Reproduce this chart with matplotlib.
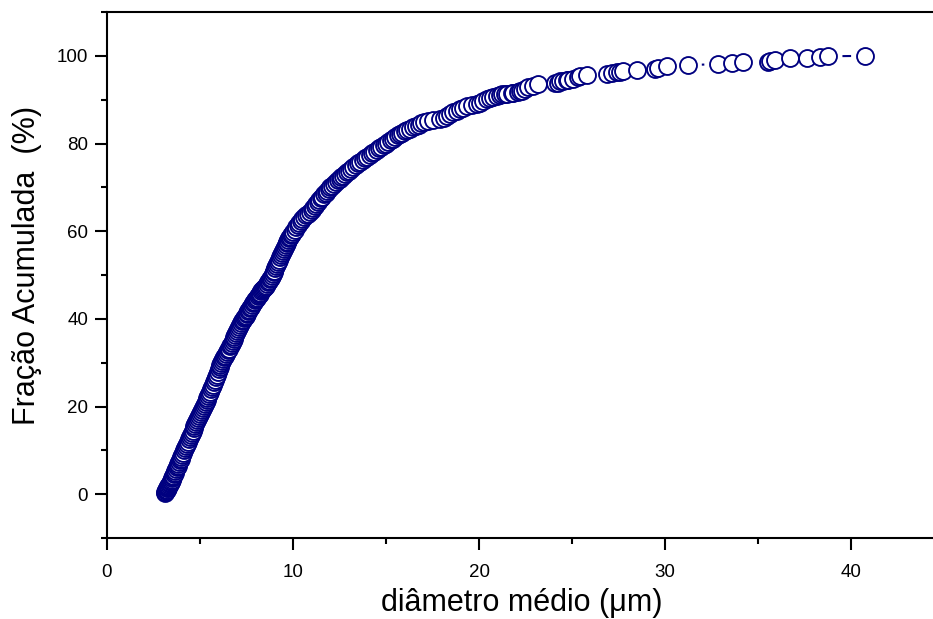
import numpy as np
import matplotlib
matplotlib.use("Agg")
import matplotlib.pyplot as plt
from matplotlib.ticker import MultipleLocator

# Mean particle diameter (um) and cumulative fraction (%)
diametro = [
    3.10, 3.12, 3.15, 3.17, 3.20, 3.23, 3.26, 3.28, 3.30, 3.33, 3.36, 3.39, 3.42,
    3.45, 3.48, 3.51, 3.54, 3.57, 3.60, 3.64, 3.68, 3.72, 3.76, 3.80, 3.84, 3.88,
    3.92, 3.96, 4.00, 4.05, 4.10, 4.15, 4.20, 4.25, 4.30, 4.35, 4.40, 4.45, 4.50,
    4.55, 4.60, 4.65, 4.70, 4.75, 4.80, 4.85, 4.90, 4.95, 5.00, 5.05, 5.10, 5.15,
    5.20, 5.25, 5.30, 5.35, 5.40, 5.45, 5.50, 5.55, 5.60, 5.65, 5.70, 5.75, 5.80,
    5.85, 5.90, 5.95, 6.00, 6.05, 6.10, 6.15, 6.20, 6.25, 6.30, 6.35, 6.40, 6.45,
    6.50, 6.55, 6.60, 6.65, 6.70, 6.75, 6.80, 6.85, 6.90, 6.95, 7.00, 7.05, 7.10,
    7.15, 7.20, 7.25, 7.30, 7.35, 7.40, 7.45, 7.50, 7.55, 7.60, 7.65, 7.70, 7.75,
    7.80, 7.85, 7.90, 7.95, 8.00, 8.05, 8.10, 8.15, 8.20, 8.25, 8.30, 8.35, 8.40,
    8.45, 8.50, 8.55, 8.60, 8.65, 8.70, 8.75, 8.80, 8.85, 8.90, 8.95, 9.00, 9.05,
    9.10, 9.15, 9.20, 9.25, 9.30, 9.35, 9.40, 9.45, 9.50, 9.55, 9.60, 9.65, 9.70,
    9.75, 9.80, 9.85, 9.90, 9.95, 10.00, 10.08, 10.16, 10.25, 10.33, 10.42, 10.50,
    10.60, 10.70, 10.80, 10.90, 11.00, 11.08, 11.17, 11.25, 11.33, 11.42, 11.50,
    11.58, 11.67, 11.75, 11.83, 11.92, 12.00, 12.10, 12.20, 12.30, 12.40, 12.50,
    12.60, 12.70, 12.80, 12.90, 13.00, 13.12, 13.25, 13.37, 13.50, 13.62, 13.75,
    13.87, 14.00, 14.12, 14.25, 14.37, 14.50, 14.62, 14.75, 14.87, 15.00, 15.12,
    15.25, 15.37, 15.50, 15.62, 15.75, 15.87, 16.00, 16.15, 16.30, 16.45, 16.60,
    16.75, 16.90, 17.05, 17.25, 17.55, 17.90, 18.10, 18.26, 18.45, 18.62, 18.80,
    18.98, 19.15, 19.34, 19.60, 19.87, 20.05, 20.23, 20.41, 20.59, 20.77, 20.95,
    21.13, 21.22, 21.40, 21.48, 21.75, 21.84, 22.11, 22.20, 22.30, 22.47, 22.65,
    22.92, 23.19, 24.09, 24.26, 24.35, 24.53, 24.71, 24.80, 25.07, 25.34, 25.43,
    25.79, 26.86, 27.13, 27.40, 27.58, 27.76, 28.47, 29.46, 29.64, 30.12, 31.22,
    32.86, 33.60, 34.17, 35.55, 35.65, 35.91, 36.72, 37.65, 38.33, 38.78, 40.75,
]
fracao = [
    0.3, 0.5, 0.7, 0.9, 1.0, 1.3, 1.5, 1.7, 1.8, 2.1, 2.3, 2.5, 2.8,
    3.0, 3.3, 3.6, 3.9, 4.2, 4.5, 4.9, 5.3, 5.7, 6.1, 6.5, 6.9, 7.3,
    7.7, 8.1, 8.5, 9.0, 9.5, 10.0, 10.5, 11.0, 11.5, 12.0, 12.5, 13.0, 13.5,
    14.0, 14.5, 15.0, 15.5, 16.0, 16.5, 16.9, 17.4, 17.8, 18.3, 18.7, 19.2, 19.6,
    20.1, 20.5, 21.0, 21.4, 21.9, 22.3, 22.8, 23.3, 23.9, 24.4, 25.0, 25.5, 26.1,
    26.7, 27.3, 27.9, 28.5, 29.0, 29.4, 29.9, 30.3, 30.8, 31.2, 31.6, 32.0, 32.4,
    32.8, 33.2, 33.7, 34.1, 34.6, 35.0, 35.5, 35.9, 36.4, 36.8, 37.3, 37.7, 38.2,
    38.6, 39.1, 39.5, 39.8, 40.1, 40.4, 40.7, 41.0, 41.4, 41.7, 42.1, 42.4, 42.8,
    43.1, 43.5, 43.8, 44.2, 44.5, 44.8, 45.1, 45.4, 45.7, 46.0, 46.3, 46.5, 46.8,
    47.0, 47.3, 47.6, 48.0, 48.3, 48.7, 49.0, 49.4, 49.8, 50.2, 50.6, 51.0, 51.5,
    52.0, 52.5, 53.0, 53.5, 54.0, 54.5, 55.0, 55.5, 56.0, 56.4, 56.8, 57.2, 57.6,
    58.0, 58.4, 58.7, 59.1, 59.4, 59.8, 60.3, 60.9, 61.5, 61.9, 62.4, 62.8,
    63.2, 63.6, 64.0, 64.4, 64.8, 65.3, 65.8, 66.2, 66.6, 67.1, 67.5,
    67.9, 68.4, 68.8, 69.2, 69.6, 70.0, 70.4, 70.8, 71.2, 71.6, 72.0,
    72.3, 72.6, 73.0, 73.4, 73.8, 74.2, 74.6, 75.0, 75.5, 75.8, 76.2,
    76.6, 77.0, 77.4, 77.8, 78.1, 78.5, 78.9, 79.3, 79.6, 80.0, 80.4,
    80.8, 81.1, 81.5, 81.9, 82.2, 82.5, 82.8, 83.1, 83.4, 83.7, 84.0,
    84.3, 84.6, 84.9, 85.2, 85.4, 85.5, 85.9, 86.3, 86.7, 87.1, 87.4,
    87.8, 88.2, 88.6, 88.8, 89.0, 89.3, 89.7, 90.1, 90.4, 90.5, 90.9,
    91.0, 91.2, 91.3, 91.3, 91.6, 91.6, 91.7, 91.9, 92.0, 92.4, 92.8,
    93.2, 93.5, 93.8, 93.9, 94.2, 94.3, 94.6, 94.6, 94.8, 95.1, 95.3,
    95.7, 95.8, 96.0, 96.2, 96.3, 96.6, 96.8, 97.0, 97.3, 97.6, 97.9,
    98.1, 98.3, 98.5, 98.6, 98.8, 99.1, 99.4, 99.6, 99.8, 99.9, 100.0,
]

x_ticks = [0, 10, 20, 30, 40]
y_ticks = [0, 20, 40, 60, 80, 100]

navy = "#000080"
plt.rcParams["font.family"] = ["Liberation Sans", "DejaVu Sans"]

fig = plt.figure(figsize=(9.33, 6.19), dpi=100)
ax = fig.add_axes([107 / 933, 1 - 538 / 619, 1 - 107 / 933, (538 - 12) / 619])
ax.set_xlim(0, 44.4)
ax.set_ylim(-10, 110)

# Connecting line, interrupted around each marker
gap = 14.0
pts = ax.transData.transform(np.column_stack([diametro, fracao]))
inv = ax.transData.inverted()
for p, q in zip(pts[:-1], pts[1:]):
    d = np.hypot(*(q - p))
    if d > 2 * gap:
        u = (q - p) / d
        a, b = inv.transform(np.vstack([p + u * gap, q - u * gap]))
        ax.plot([a[0], b[0]], [a[1], b[1]], color=navy, lw=1.5,
                solid_capstyle="butt", zorder=2)

ax.plot(diametro, fracao, linestyle="none", marker="o", markersize=12.2,
        markerfacecolor="white", markeredgecolor=navy, markeredgewidth=1.35,
        zorder=3)

ax.set_xticks(x_ticks)
ax.set_yticks(y_ticks)
ax.xaxis.set_minor_locator(MultipleLocator(5))
ax.yaxis.set_minor_locator(MultipleLocator(10))
ax.tick_params(which="both", direction="out", width=1.5, top=False, right=False,
               labelsize=13.5)
ax.tick_params(which="major", length=8.5)
ax.tick_params(which="minor", length=4.5)
ax.tick_params(axis="x", pad=10)
ax.tick_params(axis="y", pad=5)

for side in ("left", "bottom", "top"):
    ax.spines[side].set_linewidth(1.5)
ax.spines["right"].set_visible(False)

fig.text(27 / 933, 1 - 265 / 619, "Fração Acumulada  (%)", rotation=90,
         ha="center", va="center", fontsize=22)
fig.text(522 / 933, 1 - 603 / 619, "diâmetro médio (μm)",
         ha="center", va="center", fontsize=22)

fig.savefig("out.png", dpi=100)
